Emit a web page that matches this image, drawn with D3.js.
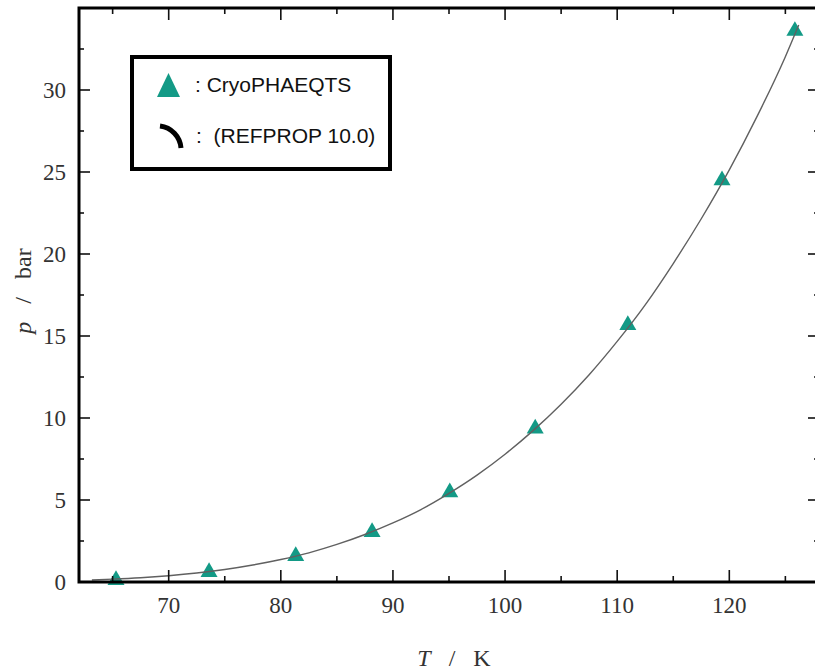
<!DOCTYPE html>
<html>
<head>
<meta charset="utf-8">
<script src="https://cdn.jsdelivr.net/npm/d3@7"></script>
<style>
  body { margin: 0; background: #fff; }
  svg { display: block; }
</style>
</head>
<body>
<div id="chart"></div>
<script>
var svgWidth = 815;
var svgHeight = 671;

// plot frame (right spine sits just outside the picture)
var margin = { top: 8, right: -4, bottom: 89, left: 79 };
var width = svgWidth - margin.left - margin.right;
var height = svgHeight - margin.top - margin.bottom;

// saturation curve (REFPROP 10.0)
var curveT = [63.15, 65, 67.5, 70, 72.5, 75, 77.5, 80, 82.5, 85, 87.5, 90, 92.5, 95,
  97.5, 100, 102.5, 105, 107.5, 110, 112.5, 115, 117.5, 120, 122.5, 125, 126.19];
var curveP = [0.125, 0.174, 0.261, 0.385, 0.548, 0.761, 1.036, 1.370, 1.778, 2.290,
  2.898, 3.605, 4.42, 5.408, 6.52, 7.792, 9.23, 10.84, 12.64, 14.67, 16.90, 19.42,
  22.15, 25.13, 28.42, 32.03, 33.96];

// CryoPHAEQTS points
var markT = [65.3, 73.6, 81.33, 88.14, 95.07, 102.69, 110.95, 119.35, 125.85];
var markP = [0.12, 0.61, 1.58, 3.04, 5.47, 9.35, 15.67, 24.49, 33.6];

var xTicks = [70, 80, 90, 100, 110, 120];
var yTicks = [0, 5, 10, 15, 20, 25, 30];

var svg = d3.select("#chart")
  .append("svg")
  .attr("width", svgWidth)
  .attr("height", svgHeight);

var chartGroup = svg.append("g")
  .attr("transform", `translate(${margin.left}, ${margin.top})`);

var xScale = d3.scaleLinear().domain([62, 128]).range([0, width]);
var yScale = d3.scaleLinear().domain([0, 35]).range([height, 0]);

var curveData = curveT.map((t, i) => ({ t: t, p: curveP[i] }));
var markData = markT.map((t, i) => ({ t: t, p: markP[i] }));

// markers
chartGroup.selectAll(".mark")
  .data(markData)
  .enter()
  .append("path")
  .attr("class", "mark")
  .attr("d", d3.symbol().type(d3.symbolTriangle).size(125))
  .attr("transform", d => `translate(${xScale(d.t)}, ${yScale(d.p)})`)
  .attr("fill", "#139a86");

// curve on top of the markers
var line = d3.line()
  .x(d => xScale(d.t))
  .y(d => yScale(d.p))
  .curve(d3.curveMonotoneX);

chartGroup.append("path")
  .datum(curveData)
  .attr("d", line)
  .attr("fill", "none")
  .attr("stroke", "#606060")
  .attr("stroke-width", 1.4);

// ticks, pointing inward on all four sides
function drawTicks(axis, scale, values, len) {
  values.forEach(function(v) {
    var p = scale(v);
    var l = chartGroup.append("line")
      .attr("stroke", "#111")
      .attr("stroke-width", 1.6);
    if (axis === "bottom") l.attr("x1", p).attr("x2", p).attr("y1", height).attr("y2", height - len);
    if (axis === "top") l.attr("x1", p).attr("x2", p).attr("y1", 0).attr("y2", len);
    if (axis === "left") l.attr("y1", p).attr("y2", p).attr("x1", 0).attr("x2", len);
    if (axis === "right") l.attr("y1", p).attr("y2", p).attr("x1", width).attr("x2", width - len);
  });
}
var xMinor = d3.range(65, 128, 10);
var yMinor = d3.range(2.5, 35, 5);
["bottom", "top"].forEach(function(a) {
  drawTicks(a, xScale, xTicks, 12);
  drawTicks(a, xScale, xMinor, 6);
});
["left", "right"].forEach(function(a) {
  drawTicks(a, yScale, yTicks, 11);
  drawTicks(a, yScale, yMinor, 5);
});

// frame
chartGroup.append("rect")
  .attr("x", 0)
  .attr("y", 0)
  .attr("width", width)
  .attr("height", height)
  .attr("fill", "none")
  .attr("stroke", "#000")
  .attr("stroke-width", 3);

// tick labels
chartGroup.selectAll(".xlab")
  .data(xTicks)
  .enter()
  .append("text")
  .attr("x", d => xScale(d))
  .attr("y", height + 31)
  .attr("text-anchor", "middle")
  .attr("font-family", "Liberation Serif, serif")
  .attr("font-size", "23px")
  .attr("fill", "#333")
  .text(d => d);

chartGroup.selectAll(".ylab")
  .data(yTicks)
  .enter()
  .append("text")
  .attr("x", -13)
  .attr("y", d => yScale(d))
  .attr("dy", "0.33em")
  .attr("text-anchor", "end")
  .attr("font-family", "Liberation Serif, serif")
  .attr("font-size", "23px")
  .attr("fill", "#333")
  .text(d => d);

// axis titles
var xTitle = svg.append("text")
  .attr("x", 454)
  .attr("y", 666)
  .attr("text-anchor", "middle")
  .attr("font-family", "Liberation Serif, serif")
  .attr("font-size", "24px")
  .attr("fill", "#333")
  .attr("xml:space", "preserve");
xTitle.append("tspan").attr("font-style", "italic").text("T");
xTitle.append("tspan").text("   /   K");

var yTitle = svg.append("text")
  .attr("transform", "translate(31, 291) rotate(-90)")
  .attr("text-anchor", "middle")
  .attr("font-family", "Liberation Serif, serif")
  .attr("font-size", "24px")
  .attr("fill", "#333")
  .attr("xml:space", "preserve");
yTitle.append("tspan").attr("font-style", "italic").text("p");
yTitle.append("tspan").text("   /   bar");

// legend
var legend = svg.append("g");
legend.append("rect")
  .attr("x", 132)
  .attr("y", 57)
  .attr("width", 258)
  .attr("height", 112)
  .attr("fill", "#fff")
  .attr("stroke", "#000")
  .attr("stroke-width", 4);

legend.append("path")
  .attr("d", "M168.5,73 L180,97 L157,97 Z")
  .attr("fill", "#139a86");

legend.append("text")
  .attr("x", 195)
  .attr("y", 92)
  .attr("font-family", "Liberation Sans, Arial, sans-serif")
  .attr("font-size", "21px")
  .attr("fill", "#111")
  .text(": CryoPHAEQTS");

// curved stroke as the line symbol
legend.append("path")
  .attr("d", "M160,126 A24,24 0 0 1 181,148")
  .attr("fill", "none")
  .attr("stroke", "#000")
  .attr("stroke-width", 5);

legend.append("text")
  .attr("x", 196)
  .attr("y", 143)
  .attr("font-family", "Liberation Sans, Arial, sans-serif")
  .attr("font-size", "21px")
  .attr("fill", "#111")
  .attr("xml:space", "preserve")
  .text(":  (REFPROP 10.0)");
</script>
</body>
</html>
